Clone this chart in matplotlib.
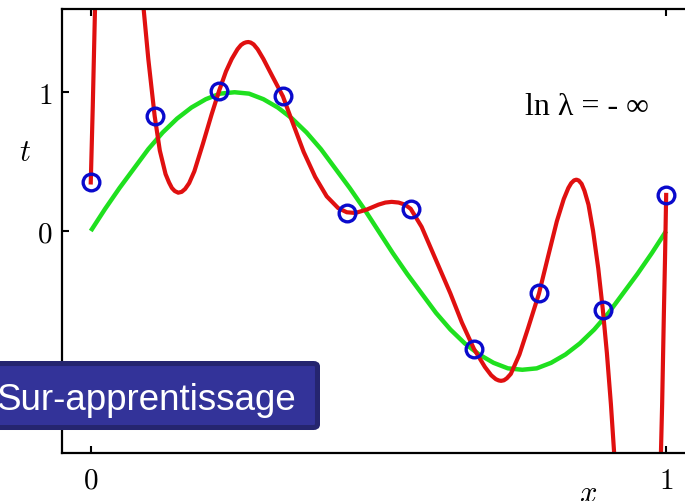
import numpy as np
import matplotlib.pyplot as plt
from matplotlib.patches import FancyBboxPatch

plt.rcParams['mathtext.fontset'] = 'cm'

# training points
x_pts = [0.0, 0.111, 0.223, 0.334, 0.445, 0.556, 0.666, 0.779, 0.89, 1.0]
t_pts = [0.35, 0.83, 1.01, 0.97, 0.13, 0.16, -0.85, -0.45, -0.57, 0.26]

# underlying curve (green)
x_true = [0.0, 0.025, 0.05, 0.075, 0.1, 0.125, 0.15, 0.175, 0.2, 0.225,
          0.25, 0.275, 0.3, 0.325, 0.35, 0.375, 0.4, 0.425, 0.45, 0.475,
          0.5, 0.525, 0.55, 0.575, 0.6, 0.625, 0.65, 0.675, 0.7, 0.725,
          0.75, 0.775, 0.8, 0.825, 0.85, 0.875, 0.9, 0.925, 0.95, 0.975, 1.0]
t_true = [0.0, 0.16, 0.31, 0.45, 0.59, 0.71, 0.81, 0.89, 0.95, 0.99,
          1.0, 0.99, 0.95, 0.89, 0.81, 0.71, 0.59, 0.45, 0.31, 0.16,
          0.0, -0.16, -0.31, -0.45, -0.59, -0.71, -0.81, -0.89, -0.95, -0.99,
          -1.0, -0.99, -0.95, -0.89, -0.81, -0.71, -0.59, -0.45, -0.31, -0.16, 0.0]

# fitted curve (red), runs off the axes near both ends
x_fit = [0.0, 0.0035, 0.0082,
         0.0885, 0.1, 0.111, 0.12, 0.13, 0.136, 0.141, 0.146, 0.152, 0.158,
         0.164, 0.171, 0.18, 0.195, 0.21, 0.223, 0.235, 0.245, 0.255, 0.261,
         0.266, 0.27, 0.274, 0.278, 0.283, 0.29, 0.3, 0.315, 0.334,
         0.35, 0.37, 0.39, 0.41, 0.43, 0.445, 0.46, 0.48, 0.5, 0.512, 0.523,
         0.535, 0.546, 0.556, 0.575, 0.6, 0.625, 0.645, 0.666, 0.685, 0.696,
         0.704, 0.709, 0.713, 0.718, 0.723, 0.73, 0.745, 0.76, 0.779, 0.795,
         0.81, 0.822, 0.83, 0.835, 0.84, 0.844, 0.848, 0.853, 0.858, 0.865,
         0.873, 0.882, 0.89, 0.897, 0.904, 0.912,
         0.99, 0.993, 0.996, 0.998, 1.0]
t_fit = [0.35, 0.9, 1.75,
         1.75, 1.24, 0.83, 0.58, 0.41, 0.35, 0.31, 0.288, 0.276, 0.282,
         0.303, 0.345, 0.43, 0.63, 0.84, 1.01, 1.15, 1.24, 1.31, 1.34,
         1.354, 1.36, 1.362, 1.358, 1.345, 1.31, 1.24, 1.12, 0.97,
         0.79, 0.57, 0.39, 0.25, 0.165, 0.135, 0.13, 0.155, 0.19, 0.205, 0.21,
         0.205, 0.19, 0.16, 0.03, -0.21, -0.45, -0.66, -0.85, -0.98, -1.04,
         -1.068, -1.077, -1.08, -1.076, -1.062, -1.03, -0.89, -0.70, -0.45, -0.18,
         0.07, 0.23, 0.31, 0.345, 0.365, 0.37, 0.364, 0.34, 0.29, 0.19,
         0.0, -0.27, -0.57, -0.88, -1.25, -1.75,
         -1.75, -1.25, -0.6, -0.2, 0.26]

fig = plt.figure(figsize=(6.85, 5.02), dpi=100)
ax = fig.add_axes([0.0905, 0.0956, 0.924, 0.8845])

ax.plot(x_true, t_true, color='#1fe01f', lw=3.2, solid_capstyle='butt')
ax.plot(x_fit, t_fit, color='#e01010', lw=3.0, solid_joinstyle='round')
ax.plot(x_pts, t_pts, 'o', ms=12, mfc='none', mec='#0a0acc', mew=2.4)

ax.set_xlim(-0.05, 1.05)
ax.set_ylim(-1.6, 1.6)
ax.set_xticks([0, 1])
ax.set_xticklabels(['$0$', '$1$'])
ax.set_yticks([-1, 0, 1])
ax.set_yticklabels(['$-1$', '$0$', '$1$'])
ax.tick_params(direction='in', length=5, width=1.5, labelsize=21,
               top=True, right=True)
ax.tick_params(axis='x', pad=9)
ax.tick_params(axis='y', pad=7)
for s in ax.spines.values():
    s.set_linewidth(1.6)

fig.text(0.0365, 0.697, '$t$', fontsize=22, ha='center', va='center')
fig.text(0.858, 0.016, '$x$', fontsize=22, ha='center', va='center')
fig.text(0.766, 0.771, 'ln \u03bb = - \u221e', fontsize=23,
         family='Liberation Serif', ha='left', va='baseline')

# label box in the lower left corner
box = FancyBboxPatch((-0.02, 0.1464), 0.4835, 0.1275,
                     boxstyle='round,pad=0,rounding_size=0.006',
                     transform=fig.transFigure, facecolor='#333399',
                     edgecolor='#25256f', lw=3.6, zorder=5)
fig.add_artist(box)
fig.text(-0.006, 0.183, 'Sur-apprentissage', fontsize=26.5,
         family='Liberation Sans', color='white', ha='left',
         va='baseline', zorder=6)

fig.savefig('out.png', dpi=100)
